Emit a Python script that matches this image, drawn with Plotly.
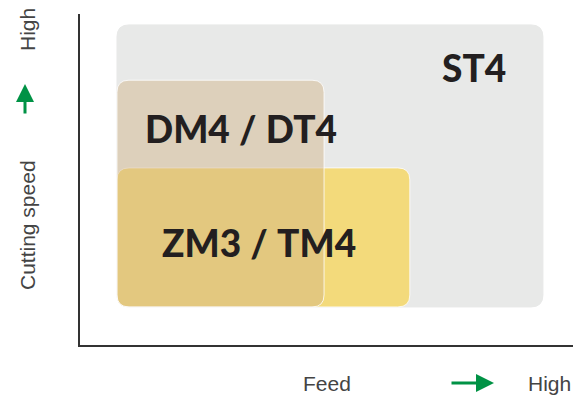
import plotly.graph_objects as go

# grade ranges on a 0-10 feed / cutting-speed scale
grades = ["ST4", "DM4 / DT4", "ZM3 / TM4"]
feed_lo = [0.75, 0.75, 0.75]
feed_hi = [9.39, 4.95, 6.69]
speed_lo = [1.15, 1.15, 1.15]
speed_hi = [9.67, 8.0, 5.35]
label_feed = [7.99, 3.27, 3.63]
label_speed = [8.37, 6.53, 3.11]

fills = ["#e8e9e8", "rgba(208,177,134,0.45)", "#f3da7b"]
draw_order = [0, 2, 1]

W, H = 586, 396
L, R, T, B = 80, 13, 14, 51
xr, yr = (0, 10), (0, 10)
ux = (W - L - R) / (xr[1] - xr[0])
uy = (H - T - B) / (yr[1] - yr[0])


def rounded(x0, x1, y0, y1, r=12):
    rx, ry = r / ux, r / uy
    return (f"M {x0+rx},{y0} L {x1-rx},{y0} Q {x1},{y0} {x1},{y0+ry} "
            f"L {x1},{y1-ry} Q {x1},{y1} {x1-rx},{y1} L {x0+rx},{y1} "
            f"Q {x0},{y1} {x0},{y1-ry} L {x0},{y0+ry} Q {x0},{y0} {x0+rx},{y0} Z")


fig = go.Figure()
fig.add_trace(go.Scatter(x=[], y=[]))

for i in draw_order:
    fig.add_shape(type="path",
                  path=rounded(feed_lo[i], feed_hi[i], speed_lo[i], speed_hi[i]),
                  fillcolor=fills[i],
                  line=dict(color="rgba(255,255,255,0.8)" if i else fills[i], width=1),
                  layer="below")

for i, g in enumerate(grades):
    fig.add_annotation(x=label_feed[i], y=label_speed[i], text=g.replace(" / ", "\u2005/\u2005"),
                       showarrow=False,
                       font=dict(family="Lato", size=37, weight=900, color="#231f20"))

axis_font = dict(family="Liberation Sans, Arial", size=21, color="#444444")
green = "#009245"

def side_text(x, y, text, angle=0):
    fig.add_annotation(xref="paper", yref="paper", x=x, y=y, text=text,
                       textangle=angle, showarrow=False, font=axis_font,
                       xanchor="center", yanchor="middle")

side_text(-0.1075, (345 - 225) / 331, "Cutting speed", -90)
side_text(-0.1075, (345 - 30) / 331, "High", -90)
side_text((327 - 80) / 493, -0.115, "Feed")
side_text((549 - 80) / 493, -0.115, "High")

fig.add_annotation(xref="paper", yref="paper", x=(25 - 80) / 493, y=(345 - 84) / 331,
                   ax=0, ay=31, text="", showarrow=True, arrowhead=2,
                   arrowsize=1.2, arrowwidth=3, arrowcolor=green)
fig.add_annotation(xref="paper", yref="paper", x=(494 - 80) / 493, y=-0.115,
                   ax=-44, ay=0, text="", showarrow=True, arrowhead=2,
                   arrowsize=1.2, arrowwidth=3, arrowcolor=green)

fig.update_xaxes(range=xr, showline=True, linecolor="#333333", linewidth=1.5,
                 showgrid=False, zeroline=False, showticklabels=False, ticks="")
fig.update_yaxes(range=yr, showline=True, linecolor="#333333", linewidth=1.5,
                 showgrid=False, zeroline=False, showticklabels=False, ticks="")

fig.update_layout(width=W, height=H, autosize=False,
                  margin=dict(l=L, r=R, t=T, b=B),
                  plot_bgcolor="white", paper_bgcolor="white",
                  showlegend=False)

fig.write_html("out.html", config={"displayModeBar": False},
               post_script="document.body.style.margin='0';")
